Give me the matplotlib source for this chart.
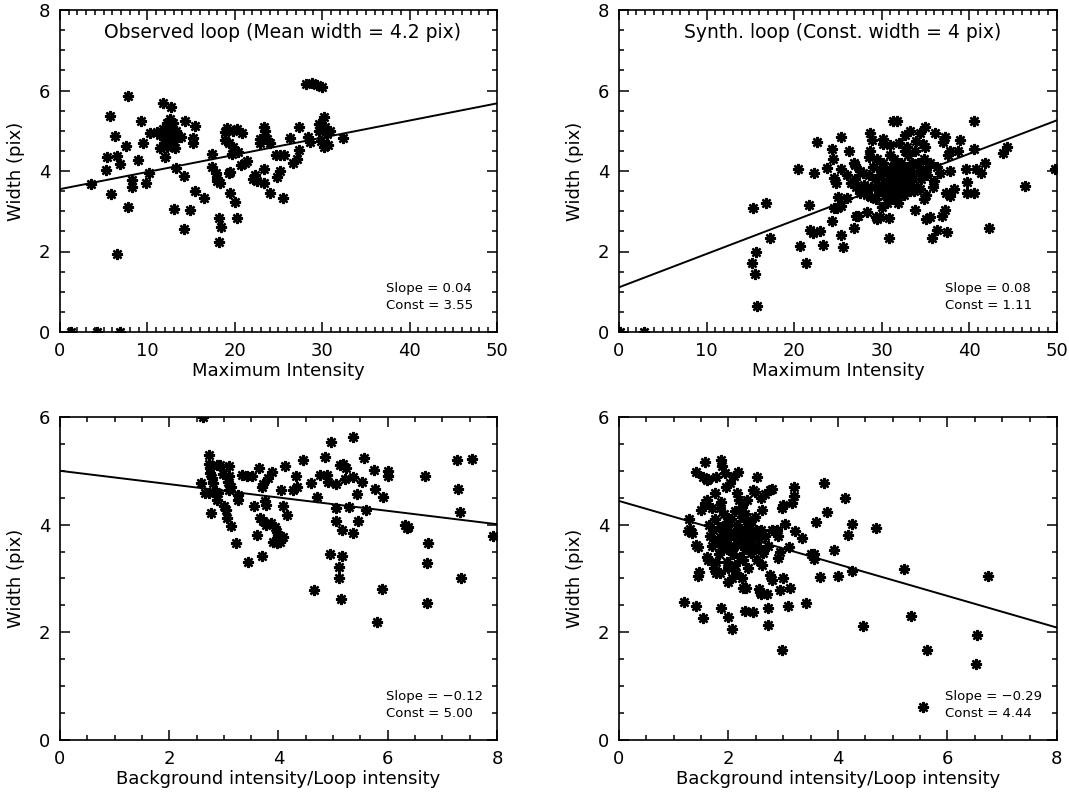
import matplotlib
matplotlib.use("Agg")
import matplotlib.pyplot as plt
from matplotlib.ticker import MultipleLocator

plt.rcParams['font.family'] = ['DejaVu Sans']

# (x, width) pairs
obs_max = [(3.6, 3.67), (5.7, 5.37), (5.8, 3.42), (5.3, 4.02), (5.4, 4.34), (6.3, 4.87), (6.5, 4.37),
           (6.9, 4.17), (6.5, 1.95), (7.8, 5.86), (7.6, 4.63), (7.8, 3.11), (8.2, 3.78), (8.2, 3.61),
           (8.9, 4.27), (9.3, 5.25), (9.5, 4.70), (9.8, 3.71), (10.2, 3.96), (10.3, 4.95), (11.1, 4.98),
           (11.4, 4.56), (11.8, 5.68), (12.0, 4.36), (12.7, 5.58),
           (11.5, 4.9), (11.8, 5.05), (12.0, 4.8), (12.2, 5.2), (12.4, 5.0), (12.5, 4.75), (12.6, 5.3),
           (12.8, 5.1), (13.0, 4.9), (12.3, 4.6), (12.9, 5.2), (13.3, 5.0), (12.1, 5.1), (11.9, 4.7),
           (13.1, 4.75), (13.2, 4.57), (13.3, 4.08), (13.1, 3.05), (13.9, 4.85), (14.2, 3.88), (14.2, 2.56),
           (14.3, 5.25), (14.9, 3.03), (15.2, 4.81), (15.2, 4.69), (15.5, 5.12), (15.5, 3.50), (16.5, 3.32),
           (17.4, 4.41), (17.4, 4.11), (17.9, 3.94), (18.0, 3.75), (18.3, 3.7), (18.0, 3.82), (18.2, 2.82),
           (18.4, 2.62), (18.2, 2.23), (18.9, 4.98), (19.1, 5.06), (18.9, 4.77), (19.3, 4.69), (19.4, 3.98),
           (19.3, 3.94), (19.5, 3.46), (19.8, 5.0), (20.2, 5.05), (19.8, 4.6), (19.7, 4.42), (20.0, 3.24),
           (20.2, 2.82), (20.4, 4.46), (20.8, 4.95), (20.7, 4.15), (21.2, 4.2), (21.4, 4.25), (22.3, 3.9),
           (22.5, 3.75), (22.1, 3.8), (23.3, 5.1), (23.5, 5.0), (22.9, 4.8), (22.9, 4.7), (23.7, 4.8),
           (24.0, 4.7), (23.4, 4.04), (23.4, 3.69), (24.0, 3.45), (24.7, 4.40), (25.2, 4.40), (25.6, 4.40),
           (24.8, 3.86), (25.2, 4.0), (25.5, 3.34), (26.3, 4.81), (26.7, 4.19), (27.1, 4.31), (27.3, 4.52),
           (27.3, 5.10), (28.2, 6.16), (28.8, 6.19), (29.4, 6.14), (30.0, 6.08), (28.4, 4.85), (28.6, 4.73),
           (29.6, 5.18), (30.2, 5.35), (30.3, 5.1), (30.5, 4.93), (30.2, 4.6), (30.7, 4.65), (29.6, 5.0),
           (30.9, 5.0), (29.9, 4.75), (32.4, 4.83), (1.3, 0.0), (4.2, 0.0), (6.9, 0.0)]

syn_max = [(15.3, 3.07), (15.2, 1.71), (15.5, 1.44), (15.7, 2.0), (15.8, 0.65), (16.8, 3.20), (17.3, 2.34),
           (20.4, 4.04), (20.7, 2.14), (21.3, 1.71), (21.7, 3.16), (21.8, 2.53), (22.2, 2.45), (22.9, 2.5),
           (22.3, 3.96), (22.6, 4.73), (23.3, 2.16), (23.8, 4.07), (24.3, 4.54), (24.4, 4.29), (24.3, 2.77),
           (24.5, 3.82), (24.8, 3.7), (25.3, 4.84), (25.3, 4.04), (25.3, 2.4), (25.6, 2.1), (24.5, 3.08),
           (24.9, 3.08), (25.3, 3.12), (25.0, 3.36), (26.0, 3.32), (26.3, 4.5), (26.8, 4.19), (26.8, 2.58),
           (27.1, 2.87), (27.3, 2.87), (27.0, 3.8), (27.1, 3.6), (28.0, 3.5), (27.5, 3.45), (28.3, 3.4),
           (28.3, 2.99), (28.7, 4.94), (28.9, 4.77), (28.7, 4.5), (28.5, 4.35), (29.3, 2.85), (29.5, 2.8),
           (29.8, 2.85), (30.2, 4.8), (30.2, 4.67), (30.8, 2.33), (30.8, 2.82), (31.3, 5.23), (31.7, 5.23),
           (31.3, 4.1), (31.3, 3.7), (31.7, 3.4), (32.0, 4.69), (32.7, 4.9), (33.0, 4.4), (33.2, 5.0),
           (33.8, 3.03), (34.4, 4.94), (34.9, 5.10), (34.9, 4.6), (34.7, 4.66), (34.8, 3.3), (35.1, 3.4),
           (35.1, 2.8), (35.5, 2.85), (35.7, 2.33), (36.3, 2.53), (36.1, 4.94), (36.3, 4.1), (36.7, 3.95),
           (36.9, 2.87), (37.2, 3.03), (37.2, 4.85), (37.0, 4.73), (37.3, 3.45), (37.8, 3.37), (37.4, 2.49),
           (37.8, 4.0), (38.2, 3.55), (37.8, 4.5), (37.6, 4.4), (38.9, 4.77), (38.7, 4.5), (39.6, 4.04),
           (39.7, 3.73), (39.7, 3.45), (40.5, 3.45), (40.5, 4.54), (40.5, 5.23), (40.8, 4.04), (41.3, 3.96),
           (41.8, 4.2), (42.3, 2.59), (43.9, 4.44), (44.3, 4.6), (46.4, 3.63), (49.8, 4.04), (0.1, 0.0),
           (2.9, 0.0),
           (28.5, 3.9), (28.8, 3.6), (29.0, 4.1), (29.2, 3.8), (29.4, 3.3), (29.5, 4.3), (29.7, 3.5),
           (29.9, 3.9), (30.0, 3.1), (30.1, 4.2), (30.3, 3.7), (30.4, 3.4), (30.5, 4.0), (30.6, 3.2),
           (30.8, 3.8), (30.9, 4.4), (31.0, 3.5), (31.1, 3.9), (31.2, 3.3), (31.4, 4.3), (31.5, 3.6),
           (31.6, 3.8), (31.8, 4.0), (31.9, 3.2), (32.0, 3.6), (32.2, 4.2), (32.3, 3.8), (32.5, 3.4),
           (32.6, 4.5), (32.8, 3.7), (33.0, 3.9), (33.2, 3.5), (33.4, 4.2), (33.6, 3.8), (33.8, 4.5),
           (34.0, 3.6), (34.3, 4.0), (34.5, 3.8), (34.8, 4.3), (35.2, 3.9), (35.5, 4.2), (35.8, 3.6),
           (36.0, 3.75), (26.0, 3.9), (26.5, 3.7), (27.5, 4.0), (28.0, 3.65), (27.0, 4.15),
           (29.6, 3.65), (29.8, 4.05), (30.2, 3.55), (30.7, 3.6), (31.0, 4.05), (31.3, 3.95), (31.6, 4.15),
           (31.9, 3.7), (32.1, 3.95), (32.4, 3.6), (32.7, 4.1), (33.1, 3.65), (33.3, 4.0), (33.7, 3.5),
           (34.1, 4.2), (34.4, 3.55), (35.0, 4.05), (33.9, 4.75), (32.9, 4.6), (31.0, 4.65), (28.8, 3.35),
           (27.9, 3.95)]

obs_bg = [(2.58, 4.78), (2.65, 4.58), (2.72, 4.58), (2.72, 5.29), (2.73, 5.12), (2.75, 5.05), (2.74, 4.96),
          (2.78, 4.87), (2.8, 4.78), (2.76, 4.21), (2.85, 4.6), (2.87, 4.45), (2.9, 4.58), (2.87, 5.1),
          (2.93, 5.1), (2.99, 4.94), (3.0, 4.35), (3.04, 4.28), (3.05, 4.12), (3.1, 5.08), (3.1, 4.9),
          (3.08, 4.8), (3.14, 4.7), (3.1, 4.64), (3.14, 3.98), (3.23, 3.65), (3.26, 4.55), (3.26, 4.46),
          (3.33, 4.92), (3.42, 4.9), (3.51, 4.9), (3.45, 3.31), (3.56, 4.35), (3.61, 3.80), (3.65, 5.06),
          (3.69, 4.7), (3.72, 4.76), (3.69, 3.42), (3.75, 4.43), (3.77, 4.37), (3.66, 4.12), (3.72, 4.06),
          (3.78, 4.0), (3.87, 4.03), (3.81, 4.86), (3.89, 4.97), (3.93, 3.96), (3.97, 3.87), (4.0, 3.81),
          (3.9, 3.68), (3.97, 3.65), (4.03, 3.68), (4.08, 3.77), (4.04, 4.64), (4.08, 4.35), (4.12, 5.08),
          (4.15, 4.18), (4.27, 4.64), (4.33, 4.7), (4.32, 4.9), (4.44, 5.2), (4.6, 4.77), (4.65, 2.79),
          (4.7, 4.52), (4.76, 4.92), (4.88, 4.92), (4.86, 5.25), (4.9, 4.8), (4.97, 5.54), (4.95, 3.46),
          (5.05, 4.76), (5.06, 4.3), (5.05, 4.06), (5.1, 3.22), (5.1, 3.0), (5.13, 5.1), (5.19, 5.12),
          (5.23, 5.06), (5.16, 3.9), (5.14, 2.61), (5.17, 3.42), (5.22, 4.84), (5.3, 4.33), (5.36, 5.63),
          (5.37, 4.89), (5.37, 3.84), (5.43, 4.56), (5.46, 4.07), (5.52, 4.8), (5.56, 5.23), (5.6, 4.27),
          (5.75, 5.02), (5.77, 4.67), (5.81, 2.2), (5.91, 4.52), (5.9, 2.81), (6.0, 5.0), (6.01, 4.9),
          (6.31, 3.99), (6.35, 3.93), (6.38, 3.96), (6.69, 4.91), (6.71, 3.28), (6.74, 3.65), (6.72, 2.54),
          (7.27, 5.2), (7.28, 4.67), (7.32, 4.24), (7.34, 3.0), (7.55, 5.21), (7.92, 3.78), (2.62, 6.0)]

syn_bg = [(1.19, 2.56), (1.28, 4.1), (1.41, 2.49), (1.3, 3.92), (1.33, 3.85), (1.27, 3.88), (1.41, 3.62),
          (1.45, 3.58), (1.46, 3.12), (1.45, 3.05), (1.4, 4.98), (1.54, 2.26), (1.57, 5.17), (1.54, 4.88),
          (1.6, 4.82), (1.63, 4.84), (1.5, 4.27), (1.57, 4.4), (1.6, 4.46), (1.6, 3.4), (1.63, 3.35),
          (1.66, 3.78), (1.73, 3.2), (1.77, 3.1), (1.78, 4.89), (1.76, 4.58), (1.86, 2.45), (1.87, 5.2),
          (1.89, 5.08), (1.84, 3.1), (1.85, 4.3), (1.87, 4.42), (1.93, 4.95), (1.99, 2.94), (2.0, 2.29),
          (1.96, 4.7), (2.02, 4.77), (2.07, 2.06), (2.1, 4.9), (2.18, 4.98), (2.15, 4.58), (2.2, 4.46),
          (2.24, 4.33), (2.33, 4.46), (2.27, 2.82), (2.32, 2.82), (2.3, 2.4), (2.45, 2.38), (2.4, 4.02),
          (2.42, 3.47), (2.45, 4.65), (2.49, 4.6), (2.53, 4.88), (2.55, 2.8), (2.58, 2.75), (2.6, 2.72),
          (2.6, 4.5), (2.67, 4.56), (2.62, 4.27), (2.62, 3.25), (2.67, 3.78), (2.64, 3.47), (2.7, 2.72),
          (2.73, 2.45), (2.72, 2.14), (2.75, 4.65), (2.79, 4.66), (2.76, 3.07), (2.8, 2.97), (2.88, 3.9),
          (2.9, 3.78), (2.94, 3.5), (2.9, 3.38), (2.94, 2.79), (2.98, 1.67), (2.97, 4.3), (3.0, 4.36),
          (3.0, 3.0), (3.03, 4.02), (3.09, 2.48), (3.11, 3.59), (3.13, 2.82), (3.17, 4.4), (3.2, 4.53),
          (3.2, 4.69), (3.21, 3.88), (3.34, 3.76), (3.41, 2.55), (3.5, 3.45), (3.56, 3.46), (3.57, 3.36),
          (3.6, 4.04), (3.67, 3.03), (3.74, 4.78), (3.8, 4.24), (3.93, 3.53), (4.01, 3.05), (4.13, 4.49),
          (4.19, 3.81), (4.26, 4.01), (4.26, 3.13), (4.46, 2.12), (4.7, 3.93), (5.2, 3.17), (5.33, 2.31),
          (5.56, 0.61), (5.62, 1.68), (6.54, 1.95), (6.52, 1.41), (6.74, 3.05),
          (1.65, 4.0), (1.7, 3.6), (1.72, 3.9), (1.75, 4.1), (1.8, 3.7), (1.82, 3.45), (1.85, 3.95),
          (1.88, 3.8), (1.9, 3.55), (1.92, 4.2), (1.95, 3.7), (1.97, 3.3), (2.0, 3.9), (2.02, 3.6),
          (2.05, 4.1), (2.08, 3.45), (2.1, 3.8), (2.12, 3.25), (2.15, 4.0), (2.18, 3.65), (2.2, 3.9),
          (2.22, 3.4), (2.25, 4.15), (2.28, 3.75), (2.3, 3.55), (2.33, 3.95), (2.36, 3.2), (2.38, 3.7),
          (2.42, 3.85), (2.45, 3.55), (2.5, 3.9), (2.52, 3.6), (2.56, 3.75), (2.6, 3.9), (1.98, 4.05),
          (2.06, 3.0), (2.14, 3.1), (2.24, 3.0), (1.78, 3.3), (2.48, 4.15),
          (1.92, 3.9), (1.98, 3.55), (2.04, 3.8), (2.1, 3.6), (2.16, 3.85), (2.22, 3.65), (2.26, 3.35),
          (2.32, 3.8), (2.36, 4.05), (2.4, 3.6), (2.46, 3.8), (2.52, 3.35), (2.58, 3.55), (2.0, 3.2),
          (1.86, 3.6), (2.12, 4.25), (2.3, 4.2), (2.72, 3.6), (2.8, 3.9), (1.7, 4.3)]

# linear fits (slope, const)
fit_slope = [0.0426, 0.083, -0.124, -0.294]
fit_const = [3.55, 1.11, 5.00, 4.44]

titles = ['Observed loop (Mean width = 4.2 pix)', 'Synth. loop (Const. width = 4 pix)', '', '']
xlabels = ['Maximum Intensity', 'Maximum Intensity',
           'Background intensity/Loop intensity', 'Background intensity/Loop intensity']
xlims = [(0, 50), (0, 50), (0, 8), (0, 8)]
ylims = [(0, 8), (0, 8), (0, 6), (0, 6)]
xmajor = [10, 10, 2, 2]
xminor = [1, 1, 0.5, 0.5]

fig = plt.figure(figsize=(10.69, 8.0), dpi=100)
positions = [[0.0561, 0.585, 0.4088, 0.4025],
             [0.5790, 0.585, 0.4097, 0.4025],
             [0.0561, 0.075, 0.4088, 0.4038],
             [0.5790, 0.075, 0.4097, 0.4038]]
datasets = [obs_max, syn_max, obs_bg, syn_bg]

for i in range(4):
    ax = fig.add_axes(positions[i])
    xs = [p[0] for p in datasets[i]]
    ys = [p[1] for p in datasets[i]]
    ax.plot(xs, ys, linestyle='none', marker=(8, 2, 0), markersize=8,
            markeredgewidth=1.7, color='black')
    x0, x1 = xlims[i]
    ax.plot([x0, x1], [fit_const[i] + fit_slope[i] * x0, fit_const[i] + fit_slope[i] * x1],
            color='black', linewidth=1.4)
    ax.set_xlim(*xlims[i])
    ax.set_ylim(*ylims[i])
    ax.xaxis.set_major_locator(MultipleLocator(xmajor[i]))
    ax.xaxis.set_minor_locator(MultipleLocator(xminor[i]))
    ax.yaxis.set_major_locator(MultipleLocator(2))
    ax.yaxis.set_minor_locator(MultipleLocator(0.5))
    ax.tick_params(which='both', direction='in', top=True, right=True, labelsize=13,
                   width=1.1, pad=7)
    ax.tick_params(which='major', length=7)
    ax.tick_params(which='minor', length=3.5)
    for s in ax.spines.values():
        s.set_linewidth(1.2)
    ax.set_xlabel(xlabels[i], fontsize=13, labelpad=2)
    ax.set_ylabel('Width (pix)', fontsize=13, labelpad=10)
    if titles[i]:
        ax.text(0.51, 0.93, titles[i], transform=ax.transAxes, ha='center', va='center', fontsize=13.5)
    sl = ('%.2f' % fit_slope[i]).replace('-', '\u2212')
    cs = ('%.2f' % fit_const[i]).replace('-', '\u2212')
    ax.text(0.745, 0.135, 'Slope = ' + sl, transform=ax.transAxes, ha='left', va='center', fontsize=9.5)
    ax.text(0.745, 0.082, 'Const = ' + cs, transform=ax.transAxes, ha='left', va='center', fontsize=9.5)

fig.savefig('out.png', dpi=100)
